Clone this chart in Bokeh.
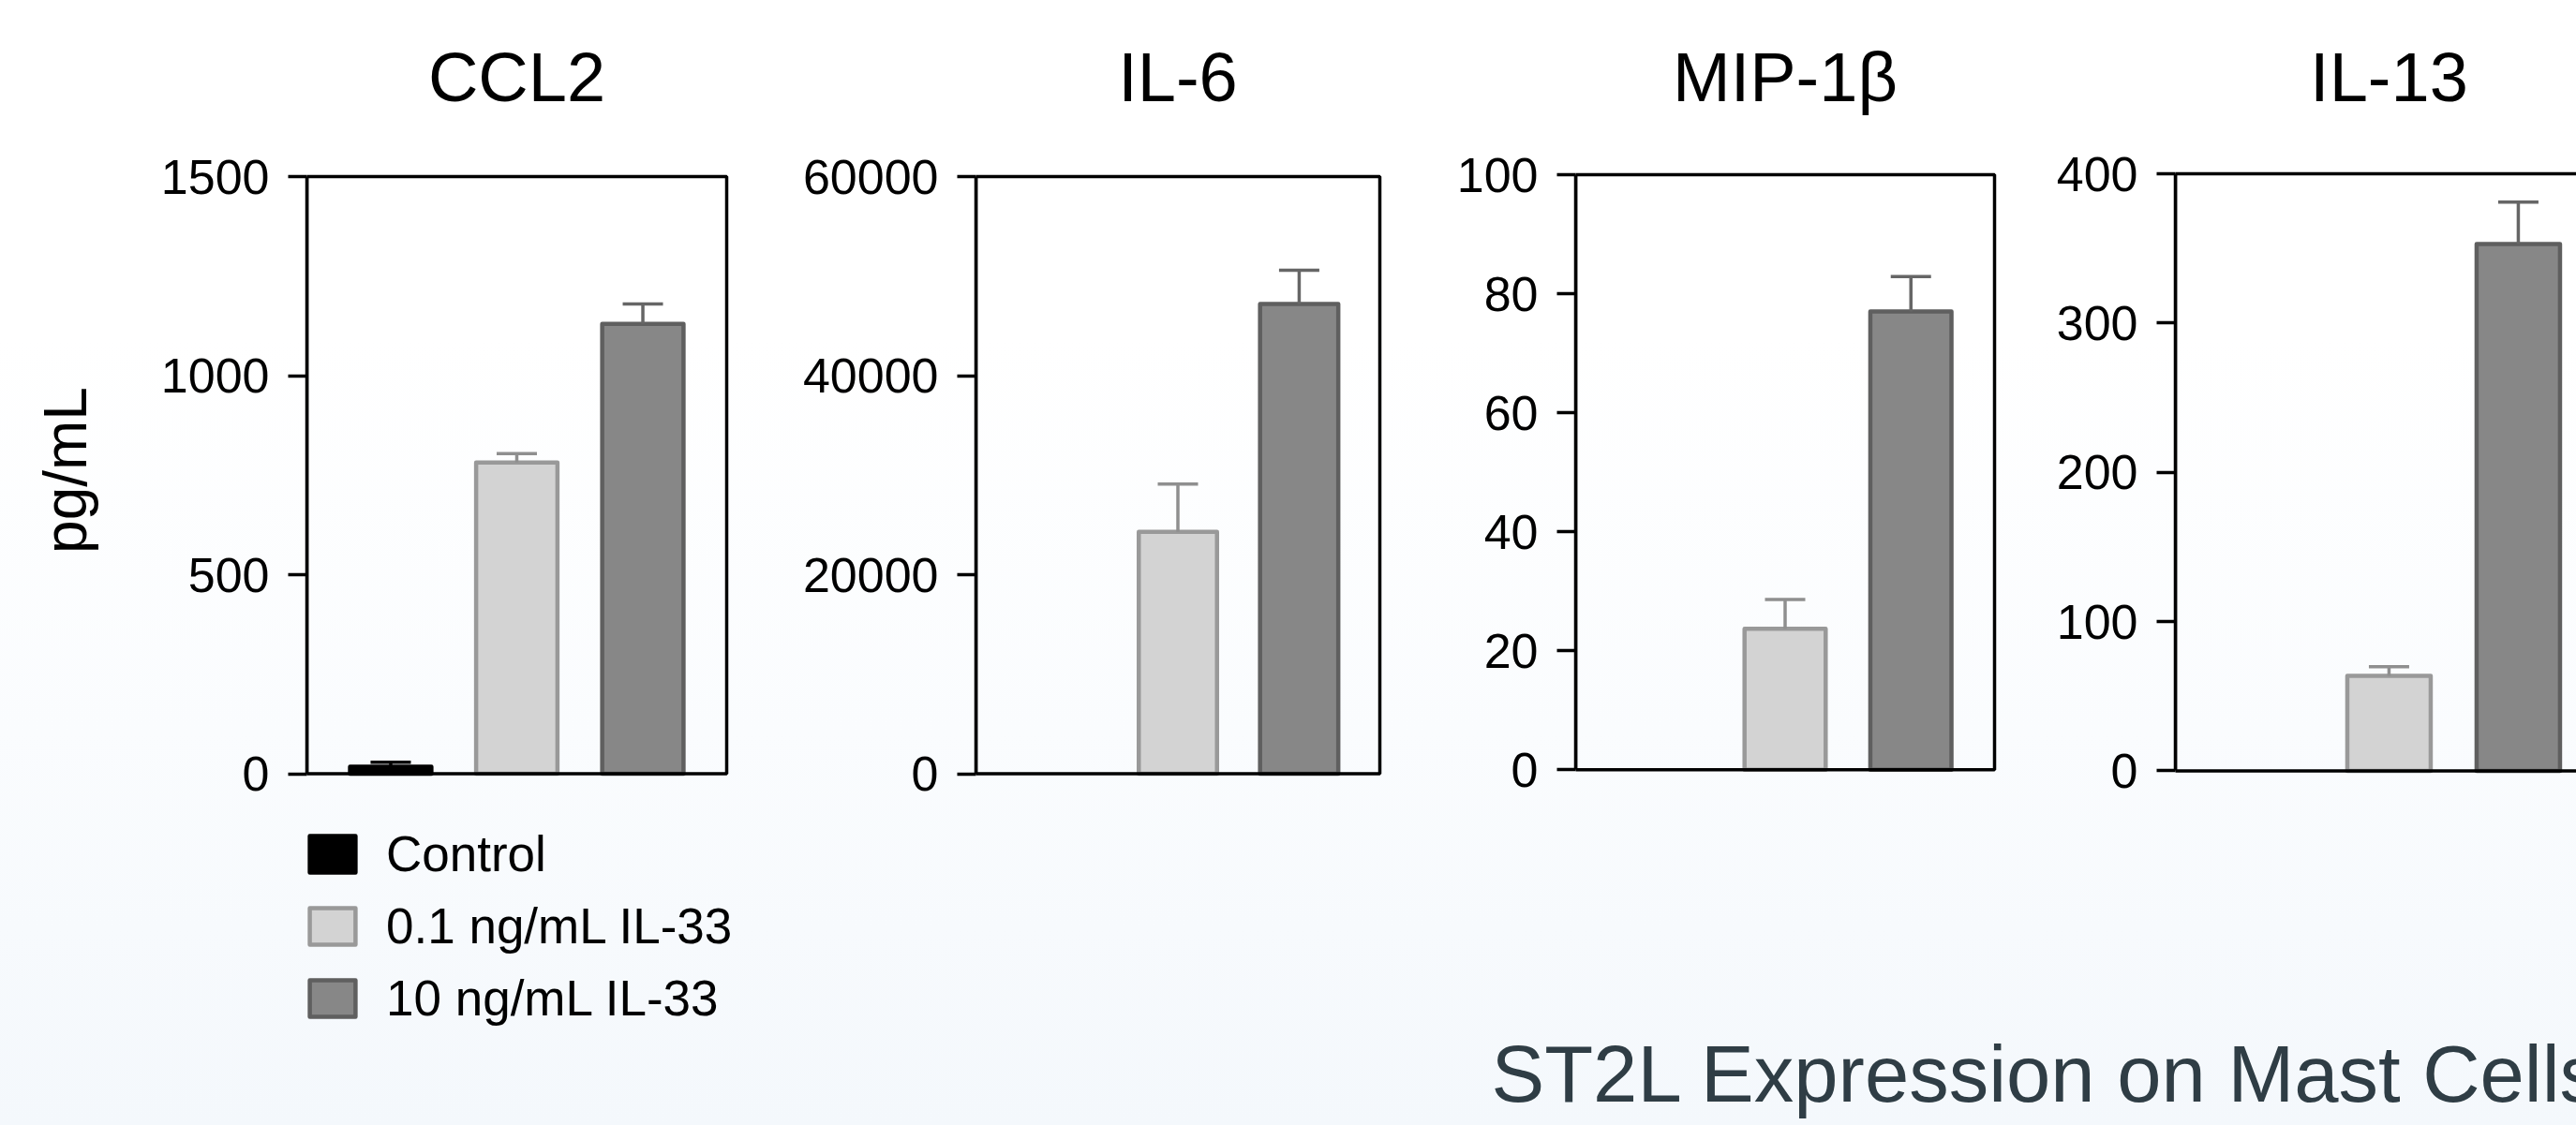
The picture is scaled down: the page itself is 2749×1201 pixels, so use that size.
import math
from bokeh.plotting import figure
from bokeh.models import (Range1d, FixedTicker, Label, Legend, LegendItem,
                          Whisker, TeeHead, ColumnDataSource, BoxAnnotation)
from bokeh.core.properties import value
from bokeh.layouts import row, column
from bokeh.embed import file_html
from bokeh.resources import INLINE

# ---------------- data ----------------
categories = ["Control", "0.1 ng/mL IL-33", "10 ng/mL IL-33"]
panel_titles = ["CCL2", "IL-6", "MIP-1β", "IL-13"]

ccl2_mean = [18, 782, 1130]
ccl2_err = [11, 22, 50]
il6_mean = [None, 24300, 47200]
il6_err = [None, 4800, 3400]
mip_mean = [None, 23.7, 77.0]
mip_err = [None, 4.9, 5.9]
il13_mean = [None, 63.6, 353]
il13_err = [None, 6.2, 28]

ccl2_ticks = [0, 500, 1000, 1500]
il6_ticks = [0, 20000, 40000, 60000]
mip_ticks = [0, 20, 40, 60, 80, 100]
il13_ticks = [0, 100, 200, 300, 400]

y_label = "pg/mL"
footer_text = "ST2L Expression on Mast Cells"

# ---------------- style / layout ----------------
FONT = "Liberation Sans"
fills = ["#000000", "#d3d3d3", "#878787"]
lines = ["#000000", "#999999", "#5f5f5f"]
err_colors = ["#000000", "#8f8f8f", "#666666"]
ROW_H = 1100
FOOT_H = 101
TITLE_BASE = 108.5 - 27  # px from top (compensating label baseline placement)
FOOT_BASE = 1174 - 28


def base_fig(w, h, xr, yr, **kw):
    p = figure(width=w, height=h, x_range=Range1d(*xr), y_range=Range1d(*yr),
               toolbar_location=None, output_backend="svg",
               background_fill_color=None, border_fill_color=None,
               outline_line_color=None, title=None, **kw)
    return p


def make_panel(title, means, errs, ticks, fig_w, left, box_w, box_top, box_bot, x0, x1):
    ppu_x = box_w / (x1 - x0)
    xr = (x0, x0 + (fig_w - left) / ppu_x)
    ymax = ticks[-1]
    ppu_y = (box_bot - box_top) / (ymax - ticks[0])
    yr = (ticks[0] - (ROW_H - box_bot) / ppu_y, ymax + box_top / ppu_y)
    p = base_fig(fig_w, ROW_H, xr, yr, x_axis_type=None,
                 min_border_left=left, min_border_right=0,
                 min_border_top=0, min_border_bottom=0)
    p.grid.visible = False
    ax = p.yaxis[0]
    ax.bounds = (ticks[0], ymax)
    ax.ticker = FixedTicker(ticks=ticks)
    ax.major_tick_out = 20
    ax.major_tick_in = 0
    ax.minor_tick_line_color = None
    ax.major_tick_line_width = 3.5
    ax.axis_line_width = 3.5
    ax.major_label_text_font = FONT
    ax.major_label_text_font_size = "52px"
    ax.major_label_text_color = "black"
    ax.major_label_standoff = 20

    p.add_layout(BoxAnnotation(left=x0, right=x1, bottom=ticks[0], top=ymax,
                               fill_color=None, fill_alpha=0, line_color="black",
                               line_alpha=1.0, line_width=3.5, level="overlay"))

    rends = []
    for i, cat in enumerate(categories):
        m = means[i]
        if m is None:
            rends.append(None)
            continue
        src = ColumnDataSource(dict(x=[i], top=[m], upper=[m + errs[i]]))
        r = p.vbar(x="x", top="top", bottom=0, width=0.645, source=src,
                   fill_color=fills[i], line_color=lines[i], line_width=4.5,
                   line_join="round")
        w = Whisker(base="x", upper="upper", lower="top", source=src, dimension="height",
                    line_color=err_colors[i], line_width=3.5,
                    upper_head=TeeHead(size=43, line_color=err_colors[i], line_width=3.5),
                    lower_head=None, level="overlay")
        p.add_layout(w)
        rends.append(r)

    p.add_layout(Label(x=1, y=ticks[0] + (box_bot - TITLE_BASE) / ppu_y, text=title,
                       text_align="center", text_baseline="alphabetic", text_font=FONT,
                       text_font_size="74px", text_color="black"))
    return p, rends


f1, r1 = make_panel(panel_titles[0], ccl2_mean, ccl2_err, ccl2_ticks,
                    680, 207, 448, 188, 825.6, -0.665, 2.665)
f2, _ = make_panel(panel_titles[1], il6_mean, il6_err, il6_ticks,
                   710, 241, 431, 188, 825.6, -0.665, 2.665)
f3, _ = make_panel(panel_titles[2], mip_mean, mip_err, mip_ticks,
                   650, 171, 447, 186, 821.3, -0.665, 2.665)
f4, _ = make_panel(panel_titles[3], il13_mean, il13_err, il13_ticks,
                   589, 161, 459.5, 185, 822.4, -0.652, 2.678)

# y-axis title column
f0 = base_fig(120, ROW_H, (0, 120), (0, ROW_H), x_axis_type=None, y_axis_type=None,
              min_border=0)
f0.add_layout(Label(x=69, y=ROW_H - 501.5, text=y_label, angle=math.pi / 2,
                    text_align="center", text_baseline="middle", text_font=FONT,
                    text_font_size="64px", text_color="black"))

legend = Legend(items=[LegendItem(label=value(c), renderers=[r]) for c, r in zip(categories, r1)],
                location=(-3, 4), orientation="vertical",
                glyph_width=61, glyph_height=49, label_standoff=27, spacing=15,
                padding=0, margin=0, label_height=62,
                border_line_color=None, background_fill_alpha=0,
                label_text_font=FONT, label_text_font_size="53px", label_text_color="black")
f1.add_layout(legend)

ff = base_fig(2749, FOOT_H, (0, 2749), (0, FOOT_H), x_axis_type=None, y_axis_type=None,
              min_border=0)
ff.add_layout(Label(x=1591, y=ROW_H + FOOT_H - FOOT_BASE, text=footer_text, text_font=FONT,
                    text_font_size="85px", text_color="#2f3d45", text_align="left",
                    text_baseline="alphabetic"))

layout = column(row(f0, f1, f2, f3, f4, spacing=0), ff, spacing=0,
                styles={"background": "linear-gradient(to bottom, #ffffff 0%, #ffffff 30%, "
                                       "#fafcfe 65%, #f4f8fc 100%)"})

open("out.html", "w").write(file_html(layout, INLINE))
